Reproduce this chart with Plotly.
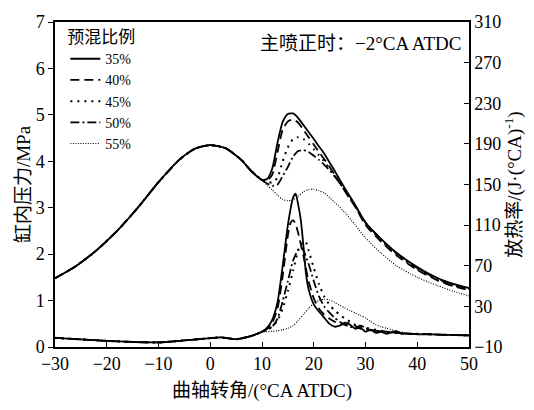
import plotly.graph_objects as go

# Crank angle (°CA ATDC) and cylinder pressure (MPa)
theta_p_common = [-30, -26, -22, -18, -14, -10, -6, -3, 0, 3, 6, 8, 10]
p_common = [1.48, 1.74, 2.08, 2.50, 3.00, 3.55, 4.03, 4.27, 4.35, 4.28, 4.03, 3.78, 3.60]

theta_p_comb = [11, 12, 13, 14, 15, 16, 17, 18, 19, 20, 21, 22, 24, 26, 28, 30, 33, 36, 40, 44, 47, 50]
p_35 = [3.62, 3.85, 4.40, 4.85, 5.02, 5.03, 4.93, 4.78, 4.63, 4.48, 4.32, 4.17, 3.80, 3.42, 3.06, 2.68, 2.33, 2.03, 1.72, 1.48, 1.36, 1.27]
p_40 = [3.58, 3.72, 4.20, 4.68, 4.86, 4.90, 4.83, 4.68, 4.52, 4.36, 4.20, 4.05, 3.72, 3.36, 3.02, 2.63, 2.27, 1.97, 1.66, 1.43, 1.31, 1.22]
p_45 = [3.56, 3.54, 3.65, 4.00, 4.30, 4.48, 4.52, 4.48, 4.38, 4.26, 4.13, 4.00, 3.70, 3.37, 3.03, 2.66, 2.30, 2.00, 1.68, 1.45, 1.33, 1.24]
p_50 = [3.52, 3.47, 3.50, 3.68, 3.88, 4.10, 4.22, 4.24, 4.20, 4.12, 4.03, 3.93, 3.68, 3.38, 3.05, 2.68, 2.32, 2.02, 1.70, 1.46, 1.34, 1.25]
p_55 = [3.48, 3.38, 3.27, 3.18, 3.15, 3.17, 3.25, 3.34, 3.39, 3.40, 3.37, 3.32, 3.12, 2.90, 2.63, 2.35, 2.02, 1.75, 1.50, 1.32, 1.20, 1.10]

# Heat release rate, J/(°CA)
theta_h_common = [-30, -25, -20, -15, -10, -5, 0, 2, 5, 8, 10]
h_common = [-1.0, -2.5, -4.0, -5.0, -5.5, -3.5, -1.3, -0.5, -2.3, 1.0, 5.0]

theta_h_35 = [11, 12, 13, 14, 15, 16, 16.5, 17, 17.5, 18, 18.5, 19, 20, 21, 22, 23, 24, 25, 26, 27, 28, 29, 30, 31, 32, 33, 34, 35, 36, 37, 38, 40, 43, 46, 50]
h_35 = [9, 17, 34, 70, 110, 137, 141, 130, 115, 90, 62, 47, 32, 25, 19, 13, 10, 11, 14, 12, 8, 9, 5, 7, 4, 5, 3, 4.5, 5.5, 3, 3.5, 2.5, 2.5, 2, 1.5]

theta_h_40 = [11, 12, 13, 14, 15, 15.5, 16, 16.5, 17, 18, 19, 20, 21, 22, 23, 24, 25, 26, 27, 28, 29, 30, 32, 34, 36, 38, 40, 45, 50]
h_40 = [8, 14, 28, 60, 100, 112, 115, 111, 102, 80, 55, 38, 28, 22, 18, 15, 13, 12, 14, 11, 8, 7, 6, 5, 4, 3, 3, 2, 1.5]

theta_h_45 = [11, 12, 13, 14, 15, 16, 17, 18, 18.5, 19, 20, 21, 22, 23, 24, 25, 26, 27, 28, 29, 30, 32, 34, 36, 38, 40, 45, 50]
h_45 = [7, 10, 16, 28, 45, 65, 85, 94, 93, 85, 68, 52, 40, 32, 26, 22, 18, 15, 12, 10, 9, 7, 5, 4, 3, 3, 2, 1.5]

theta_h_50 = [11, 12, 13, 14, 15, 16, 17, 17.5, 18, 19, 20, 21, 22, 23, 24, 25, 26, 27, 28, 29, 30, 31, 32, 34, 36, 38, 40, 45, 50]
h_50 = [7, 10, 18, 35, 55, 75, 86, 88, 85, 72, 55, 40, 30, 24, 19, 15, 12, 10, 9, 11, 9, 7, 6, 5, 4, 3, 3, 2, 1.5]

theta_h_55 = [11, 12, 13, 14, 15, 16, 17, 18, 19, 20, 21, 22, 23, 24, 25, 26, 27, 28, 29, 30, 31, 32, 33, 34, 35, 36, 38, 40, 45, 50]
h_55 = [5, 5.5, 6, 7, 8.5, 11, 16, 22, 28, 33, 36, 37, 36.5, 34, 31, 28.5, 26, 23.5, 21, 18.5, 15, 12, 10, 8.5, 7, 5.5, 4, 3, 2, 1]

ratios = ["35%", "40%", "45%", "50%", "55%"]
p_series = [p_35, p_40, p_45, p_50, p_55]
h_thetas = [theta_h_35, theta_h_40, theta_h_45, theta_h_50, theta_h_55]
h_series = [h_35, h_40, h_45, h_50, h_55]
styles = [
    dict(dash="solid", width=1.8),
    dict(dash="9px,5px", width=1.8),
    dict(dash="2px,5px", width=2.0),
    dict(dash="9px,3px,2px,3px", width=1.8),
    dict(dash="1px,1.5px", width=1.1),
]

fig = go.Figure()
for name, p, th, h, st in zip(ratios, p_series, h_thetas, h_series, styles):
    fig.add_trace(go.Scatter(
        x=theta_p_common + theta_p_comb, y=p_common + p,
        mode="lines", name=name, legendgroup=name,
        line=dict(color="black", shape="spline", smoothing=0.6, **st),
    ))
    fig.add_trace(go.Scatter(
        x=theta_h_common + th, y=h_common + h,
        mode="lines", name=name, legendgroup=name, showlegend=False,
        yaxis="y2",
        line=dict(color="black", shape="spline", smoothing=0.6, **st),
    ))

font_family = "Liberation Serif, Noto Sans CJK SC"

fig.update_layout(
    width=534, height=410,
    margin=dict(l=55, r=64, t=15, b=61),
    paper_bgcolor="white", plot_bgcolor="white",
    font=dict(family=font_family, size=15, color="black"),
    showlegend=True,
    legend=dict(
        x=0.025, y=1.003, xanchor="left", yanchor="top",
        bgcolor="rgba(0,0,0,0)",
        title=dict(text="预混比例", font=dict(size=17, family=font_family)),
        font=dict(size=14, family=font_family),
        itemwidth=30, tracegroupgap=0,
    ),
    xaxis=dict(
        range=[-30, 50], dtick=10, tick0=-30,
        showline=True, linecolor="black", linewidth=1.5, mirror=True,
        ticks="inside", ticklen=5, tickcolor="black",
        tickfont=dict(family=font_family, size=18),
        showgrid=False, zeroline=False,
        title=dict(text="曲轴转角/(°CA ATDC)", font=dict(size=19, family=font_family), standoff=10),
    ),
    yaxis=dict(
        range=[0, 7], dtick=1,
        showline=True, linecolor="black", linewidth=1.5,
        ticks="outside", ticklen=5, tickcolor="black",
        tickfont=dict(family=font_family, size=18),
        showgrid=False, zeroline=False,
        title=dict(text="缸内压力/MPa", font=dict(size=19, family=font_family), standoff=0),
    ),
    yaxis2=dict(
        range=[-10, 310], dtick=40, tick0=-10,
        overlaying="y", side="right",
        showline=True, linecolor="black", linewidth=1.5,
        ticks="inside", ticklen=5, tickcolor="black",
        tickfont=dict(family=font_family, size=18),
        showgrid=False, zeroline=False,
        title=dict(text="放热率/(J·(°CA)<sup>-1</sup>)", font=dict(size=19, family=font_family), standoff=6),
    ),
    annotations=[dict(
        text="主喷正时：−2°CA ATDC",
        xref="paper", yref="paper", x=0.985, y=0.935,
        xanchor="right", yanchor="middle", showarrow=False,
        font=dict(size=19, family=font_family),
    )],
)

fig.write_html("out.html")
